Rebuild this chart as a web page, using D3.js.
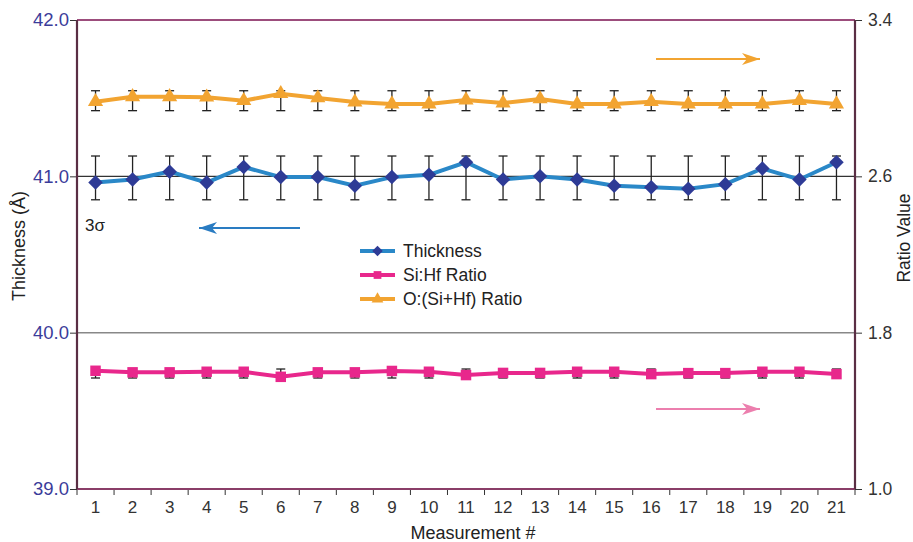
<!DOCTYPE html>
<html><head><meta charset="utf-8">
<script src="https://cdn.jsdelivr.net/npm/d3@7"></script>
<style>body{margin:0;background:#fff;}svg{display:block;font-family:"Liberation Sans",Arial,sans-serif;}</style>
</head><body><svg id="c" width="913" height="542"></svg>
<script>
const measurements = [1,2,3,4,5,6,7,8,9,10,11,12,13,14,15,16,17,18,19,20,21];
const thickness = [40.96,40.98,41.03,40.96,41.06,40.995,40.995,40.94,40.995,41.01,41.09,40.98,41.0,40.98,40.94,40.93,40.92,40.95,41.05,40.98,41.09];
const thicknessLow = Array(21).fill(40.85);
const thicknessHigh = Array(21).fill(41.13);
const siHf = [1.605,1.597,1.597,1.600,1.600,1.574,1.597,1.597,1.604,1.600,1.583,1.594,1.594,1.600,1.600,1.588,1.593,1.593,1.600,1.600,1.588];
const siHfLow = Array(21).fill(1.568);
const siHfHigh = Array(21).fill(1.614);
const oRatio = [2.982,3.007,3.007,3.005,2.987,3.023,3.001,2.980,2.970,2.970,2.990,2.975,2.996,2.970,2.970,2.982,2.970,2.970,2.970,2.987,2.970];
const oRatioLow = Array(21).fill(2.936);
const oRatioHigh = Array(21).fill(3.038);
const leftTicks = [39.0,40.0,41.0,42.0];
const rightTicks = [1.0,1.8,2.6,3.4];
const seriesNames = ["Thickness","Si:Hf Ratio","O:(Si+Hf) Ratio"];

const svg = d3.select("#c");
const L=77,R=855,T=20,B=489;
const x = d3.scaleBand().domain(measurements).range([L,R]);
const yL = d3.scaleLinear().domain([39,42]).range([B,T]);
const yR = d3.scaleLinear().domain([1.0,3.4]).range([B,T]);
const cx = d => x(d)+x.bandwidth()/2;

// grid lines
svg.append("line").attr("x1",L).attr("x2",R).attr("y1",yL(41)).attr("y2",yL(41)).attr("stroke","#333").attr("stroke-width",1.2);
svg.append("line").attr("x1",L).attr("x2",R).attr("y1",yL(40)).attr("y2",yL(40)).attr("stroke","#888").attr("stroke-width",1.5);

// left axis
const gl = svg.append("g").attr("transform",`translate(${L},0)`)
  .call(d3.axisLeft(yL).tickValues(leftTicks).tickFormat(d3.format(".1f")).tickSize(7).tickSizeOuter(0));
gl.select(".domain").remove();
gl.selectAll("line").attr("stroke","#333");
gl.selectAll("text").attr("fill","#3b3c9a").attr("font-size",18.5).attr("x",-8);
// right axis
const gr = svg.append("g").attr("transform",`translate(${R},0)`)
  .call(d3.axisRight(yR).tickValues(rightTicks).tickFormat(d3.format(".1f")).tickSize(7).tickSizeOuter(0));
gr.select(".domain").remove();
gr.selectAll("line").attr("stroke","#333");
gr.selectAll("text").attr("fill","#333").attr("font-size",17.5).attr("x",13);
// bottom axis
const gb = svg.append("g").attr("transform",`translate(0,${B})`)
  .call(d3.axisBottom(x).tickSize(0).tickPadding(12));
gb.select(".domain").remove();
gb.selectAll("text").attr("fill","#333").attr("font-size",17);
const bounds = d3.range(measurements.length+1).map(i=>L+i*x.bandwidth());
svg.append("g").selectAll("line").data(bounds).join("line")
  .attr("x1",d=>d).attr("x2",d=>d).attr("y1",B).attr("y2",B+6).attr("stroke","#333");

// frame
svg.append("line").attr("x1",L).attr("x2",R).attr("y1",T).attr("y2",T).attr("stroke","#9c4d7c").attr("stroke-width",2);
svg.append("line").attr("x1",L).attr("x2",R).attr("y1",B).attr("y2",B).attr("stroke","#8a3e68").attr("stroke-width",2);
svg.append("line").attr("x1",L).attr("x2",L).attr("y1",T).attr("y2",B).attr("stroke","#5a2e44").attr("stroke-width",2.2);
svg.append("line").attr("x1",R).attr("x2",R).attr("y1",T).attr("y2",B).attr("stroke","#5a2e44").attr("stroke-width",2.2);

// error bars
function errBars(lo,hi,y){
  const g = svg.append("g").attr("stroke","#222").attr("stroke-width",1.3);
  measurements.forEach((m,i)=>{
    const X=cx(m);
    g.append("line").attr("x1",X).attr("x2",X).attr("y1",y(lo[i])).attr("y2",y(hi[i]));
    g.append("line").attr("x1",X-4.5).attr("x2",X+4.5).attr("y1",y(lo[i])).attr("y2",y(lo[i]));
    g.append("line").attr("x1",X-4.5).attr("x2",X+4.5).attr("y1",y(hi[i])).attr("y2",y(hi[i]));
  });
}
errBars(thicknessLow,thicknessHigh,yL);
errBars(oRatioLow,oRatioHigh,yR);
errBars(siHfLow,siHfHigh,yR);

const colors = {thick:"#2a88c8", thickM:"#2e3b96", pink:"#e8278c", orange:"#f2a431"};
function series(vals,y,lineColor,markColor,sym,size,rot){
  svg.append("path").datum(vals)
    .attr("d",d3.line().x((d,i)=>cx(measurements[i])).y(d=>y(d)))
    .attr("fill","none").attr("stroke",lineColor).attr("stroke-width",4);
  svg.append("g").selectAll("path").data(vals).join("path")
    .attr("transform",(d,i)=>`translate(${cx(measurements[i])},${y(d)}) rotate(${rot||0})`)
    .attr("d",d3.symbol().type(sym).size(size)).attr("fill",markColor);
}
series(oRatio,yR,colors.orange,colors.orange,d3.symbolTriangle,100);
series(thickness,yL,colors.thick,colors.thickM,d3.symbolSquare,105,45);
series(siHf,yR,colors.pink,colors.pink,d3.symbolSquare,110);

// arrows
function arrow(x1,x2,y,color){
  svg.append("line").attr("x1",x1).attr("x2",x2).attr("y1",y).attr("y2",y).attr("stroke",color).attr("stroke-width",1.8);
  const dir = Math.sign(x2-x1);
  svg.append("path").attr("d",`M${x2},${y} L${x2-dir*18},${y-6} L${x2-dir*13},${y} L${x2-dir*18},${y+6} Z`).attr("fill",color);
}
arrow(656,760,59,"#f2a431");
arrow(300,199,228,"#2a7cc2");
arrow(656,760,409,"#ec7fae");

svg.append("text").attr("x",85).attr("y",231).attr("font-size",17).attr("fill","#222").text("3σ");

// legend
const leg = [
  {name:seriesNames[0],line:colors.thick,mark:colors.thickM,sym:d3.symbolSquare,rot:45,size:55},
  {name:seriesNames[1],line:colors.pink,mark:colors.pink,sym:d3.symbolSquare,rot:0,size:60},
  {name:seriesNames[2],line:colors.orange,mark:colors.orange,sym:d3.symbolTriangle,rot:0,size:60}
];
leg.forEach((l,i)=>{
  const yy = 251+i*24;
  svg.append("line").attr("x1",360).attr("x2",395).attr("y1",yy).attr("y2",yy).attr("stroke",l.line).attr("stroke-width",4);
  svg.append("path").attr("transform",`translate(377.5,${yy}) rotate(${l.rot})`).attr("d",d3.symbol().type(l.sym).size(l.size)).attr("fill",l.mark);
  svg.append("text").attr("x",403).attr("y",yy+6).attr("font-size",17.5).attr("fill","#222").text(l.name);
});

// axis titles
svg.append("text").attr("transform","translate(25,246) rotate(-90)").attr("text-anchor","middle").attr("font-size",18).attr("fill","#222").text("Thickness (Å)");
svg.append("text").attr("transform","translate(910,238) rotate(-90)").attr("text-anchor","middle").attr("font-size",17.5).attr("fill","#222").text("Ratio Value");
svg.append("text").attr("x",473).attr("y",539).attr("text-anchor","middle").attr("font-size",18).attr("fill","#222").text("Measurement #");
</script></body></html>
